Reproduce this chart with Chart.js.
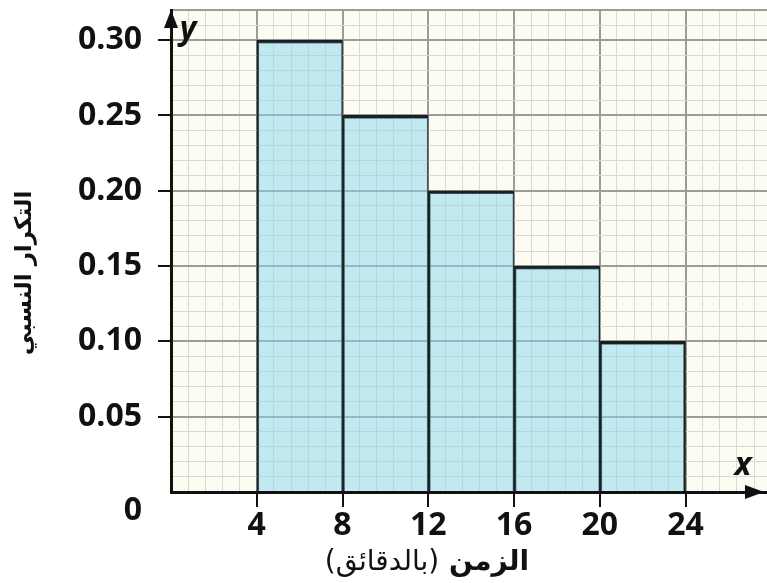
<!DOCTYPE html>
<html lang="ar">
<head>
<meta charset="UTF-8">
<title>Histogram</title>
<script src="https://cdn.jsdelivr.net/npm/chart.js"></script>
<style>
  html, body { margin: 0; padding: 0; background: #fff; }
  #wrap { width: 767px; height: 583px; position: relative; }
</style>
</head>
<body>
<div id="wrap"><canvas id="histChart"></canvas></div>
<script>
// values
const binStarts = [4, 8, 12, 16, 20];
const binWidth = 4;
const relFreq = [0.30, 0.25, 0.20, 0.15, 0.10];
const xTickLabels = ['4', '8', '12', '16', '20', '24'];
const yTickLabels = ['0', '0.05', '0.10', '0.15', '0.20', '0.25', '0.30'];
const xTitleWord = 'الزمن';
const xTitleUnit = '(بالدقائق)';
const yTitle = 'التكرار النسبي';

const tv = c => (c && c.tick) ? c.tick.value : NaN;
const isMajorX = v => Math.abs(v / 4 - Math.round(v / 4)) < 1e-6;
const isMajorY = v => Math.abs(v / 0.05 - Math.round(v / 0.05)) < 1e-6 || Math.abs(v - 0.32) < 1e-6;

const tickFont = { family: '"Open Sans", sans-serif', size: 32, weight: 'bold' };

const decor = {
  id: 'decor',
  beforeDraw(chart) {
    const { ctx, chartArea: a } = chart;
    ctx.save();
    ctx.fillStyle = '#fcfcf3';
    ctx.fillRect(a.left - 4, a.top, a.right - a.left + 4, a.bottom - a.top);
    ctx.restore();
  },
  afterDraw(chart) {
    const { ctx, chartArea: a } = chart;
    const y0 = chart.scales.y.getPixelForValue(0);
    const x0 = chart.scales.x.getPixelForValue(0);
    ctx.save();
    ctx.fillStyle = '#111';
    // arrow heads
    ctx.beginPath();
    ctx.moveTo(a.right - 3, y0);
    ctx.lineTo(a.right - 22, y0 - 7);
    ctx.lineTo(a.right - 22, y0 + 7);
    ctx.closePath();
    ctx.fill();
    ctx.beginPath();
    ctx.moveTo(x0, a.top);
    ctx.lineTo(x0 - 7, a.top + 18);
    ctx.lineTo(x0 + 7, a.top + 18);
    ctx.closePath();
    ctx.fill();
    // axis letters
    ctx.font = 'italic bold 32px "Open Sans", sans-serif';
    ctx.textAlign = 'center';
    ctx.textBaseline = 'middle';
    ctx.fillText('x', a.right - 24, y0 - 26);
    ctx.fillText('y', x0 + 17, a.top + 20);
    // x title: bold word + regular unit, right to left
    ctx.direction = 'rtl';
    ctx.textAlign = 'right';
    const rightX = a.left + 358;
    ctx.font = 'bold 28px "DejaVu Sans", sans-serif';
    const wWord = ctx.measureText(xTitleWord + ' ').width;
    ctx.fillText(xTitleWord + ' ', rightX, 563);
    ctx.font = '28px "DejaVu Sans", sans-serif';
    ctx.fillText(xTitleUnit, rightX - wWord, 563);
    // y title
    ctx.textAlign = 'center';
    ctx.translate(25, 273);
    ctx.rotate(-Math.PI / 2);
    ctx.font = 'bold 23px "DejaVu Sans", sans-serif';
    ctx.fillText(yTitle, 0, 0);
    ctx.restore();
  }
};

new Chart(document.getElementById('histChart'), {
  type: 'bar',
  data: {
    datasets: [{
      data: binStarts.map((s, i) => ({ x: s + binWidth / 2, y: relFreq[i] })),
      backgroundColor: 'rgba(140, 215, 235, 0.52)',
      borderColor: '#1b1f1f',
      borderWidth: ctx => ({ top: 3, left: 2, right: ctx.dataIndex === relFreq.length - 1 ? 2 : 1, bottom: 0 }),
      borderSkipped: false,
      barThickness: 'flex',
      categoryPercentage: 1,
      barPercentage: 1
    }]
  },
  options: {
    responsive: true,
    maintainAspectRatio: false,
    animation: false,
    layout: { padding: { top: 10, right: 0, left: 0, bottom: 0 } },
    plugins: { legend: { display: false }, tooltip: { enabled: false } },
    scales: {
      x: {
        type: 'linear',
        min: 0,
        max: 27.8,
        offset: false,
        afterFit: s => { s.height = 91; s.paddingLeft = 0; s.paddingRight = 0; },
        ticks: {
          stepSize: 0.8,
          includeBounds: false,
          autoSkip: false,
          maxRotation: 0,
          padding: 0,
          color: '#111',
          font: tickFont,
          callback: v => (isMajorX(v) && xTickLabels.includes(String(v))) ? String(v) : ''
        },
        grid: {
          offset: false,
          color: c => isMajorX(tv(c)) ? '#9c9c9a' : '#dadad2',
          lineWidth: c => isMajorX(tv(c)) ? 2 : 1,
          tickLength: 15,
          tickWidth: 2,
          tickColor: c => (isMajorX(tv(c)) && xTickLabels.includes(String(tv(c)))) ? '#111' : 'rgba(0,0,0,0)'
        },
        border: { display: true, color: '#111', width: 3 }
      },
      y: {
        type: 'linear',
        min: 0,
        max: 0.32,
        afterFit: s => { s.width = 171; s.paddingTop = 0; s.paddingBottom = 0; },
        ticks: {
          stepSize: 0.01,
          includeBounds: false,
          autoSkip: false,
          padding: 16,
          color: '#111',
          font: tickFont,
          callback: v => {
            const lab = yTickLabels.find(l => Math.abs(parseFloat(l) - v) < 1e-9);
            if (lab === undefined) return '';
            return lab === '0' ? ['', '0'] : lab;
          }
        },
        grid: {
          color: c => isMajorY(tv(c)) ? '#9c9c9a' : '#dadad2',
          lineWidth: c => isMajorY(tv(c)) ? 2 : 1,
          tickLength: 13,
          tickWidth: 2,
          tickColor: c => (isMajorY(tv(c)) && tv(c) > 0 && tv(c) < 0.31) ? '#111' : 'rgba(0,0,0,0)'
        },
        border: { display: true, color: '#111', width: 3 }
      }
    }
  },
  plugins: [decor]
});
</script>
</body>
</html>
